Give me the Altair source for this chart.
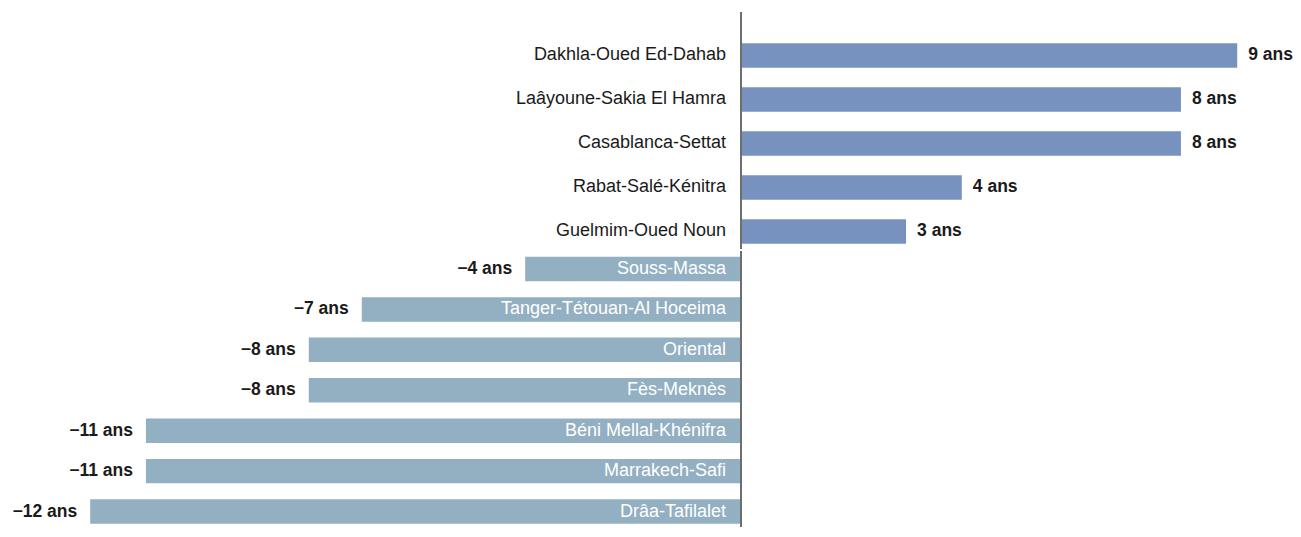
import altair as alt
import pandas as pd

top_regions = ["Dakhla-Oued Ed-Dahab", "Laâyoune-Sakia El Hamra", "Casablanca-Settat",
               "Rabat-Salé-Kénitra", "Guelmim-Oued Noun"]
top_values = [8.99, 7.97, 7.97, 4.0, 2.99]
top_labels = ["9 ans", "8 ans", "8 ans", "4 ans", "3 ans"]

bottom_regions = ["Souss-Massa", "Tanger-Tétouan-Al Hoceima", "Oriental", "Fès-Meknès",
                  "Béni Mellal-Khénifra", "Marrakech-Safi", "Drâa-Tafilalet"]
bottom_values = [-3.91, -6.87, -7.83, -7.83, -10.78, -10.78, -11.79]
bottom_labels = ["−4 ans", "−7 ans", "−8 ans", "−8 ans", "−11 ans", "−11 ans", "−12 ans"]

POS_COLOR = "#7892c0"
NEG_COLOR = "#93afc2"
AXIS_COLOR = "#6e6e6e"
FONT = "Liberation Sans"
FS_NAME = 18
FS_VAL = 17.5
W = 1285
H_TOP = 241
H_BOT = 276
xdom = [-13.279, 10.0]

top_df = pd.DataFrame({"region": top_regions, "value": top_values, "label": top_labels})
bot_df = pd.DataFrame({"region": bottom_regions, "value": bottom_values, "label": bottom_labels})
zero_df = pd.DataFrame({"z": [0]})

xscale = alt.Scale(domain=xdom, nice=False, zero=False)


def panel(df, regions, color, label_color, val_align, val_dx, step_inner, step_outer, align, h, rule_top):
    yscale = alt.Scale(domain=regions, paddingInner=step_inner, paddingOuter=step_outer, align=align)
    base = alt.Chart(df).encode(
        y=alt.Y("region:N", scale=yscale, axis=None, sort=regions)
    )
    bars = base.mark_bar(color=color).encode(
        x=alt.X("value:Q", scale=xscale, axis=None)
    )
    names = base.mark_text(align="right", baseline="middle", dx=-15, font=FONT,
                           fontSize=FS_NAME, color=label_color).encode(
        x=alt.datum(0, scale=xscale), text="region:N"
    )
    vals = base.mark_text(align=val_align, baseline="middle", dx=val_dx, font=FONT,
                          fontSize=FS_VAL, fontWeight="bold", color="#1a1a1a").encode(
        x=alt.X("value:Q", scale=xscale), text="label:N"
    )
    rule = alt.Chart(zero_df).mark_rule(color=AXIS_COLOR, strokeWidth=2).encode(
        x=alt.X("z:Q", scale=xscale), y=alt.value(rule_top), y2=alt.value(h)
    )
    return alt.layer(bars, rule, names, vals).properties(width=W, height=h)


top = panel(top_df, top_regions, POS_COLOR, "#1a1a1a", "left", 11, 0.443, 0.46, 0.87, H_TOP, 4)
bot = panel(bot_df, bottom_regions, NEG_COLOR, "#ffffff", "right", -13, 0.395, 0.111, 0.64, H_BOT, 0)

chart = alt.vconcat(top, bot, spacing=0).properties(padding=0).configure_view(strokeWidth=0)

chart.save("out.html", embed_options={"renderer": "svg", "actions": False})
